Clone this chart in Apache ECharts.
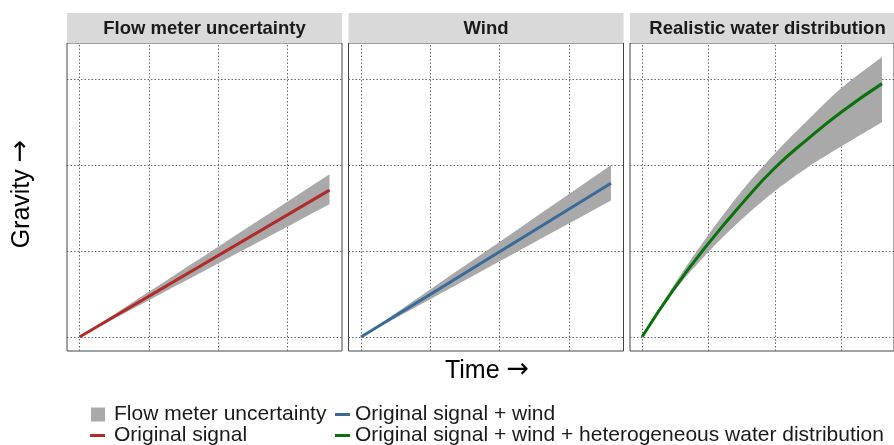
<!DOCTYPE html>
<html>
<head>
<meta charset="utf-8">
<script src="https://cdn.jsdelivr.net/npm/echarts@6/dist/echarts.min.js"></script>
<style>html,body{margin:0;padding:0;background:#fff;}#c{width:894px;height:445px;}</style>
</head>
<body>
<div id="c"></div>
<script>
// ---- data (in grid units) ----
const panelTitles = ['Flow meter uncertainty', 'Wind', 'Realistic water distribution'];
const gridX = [0, 1, 2, 3];
const gridY = [0, 1, 2, 3];

const xs1 = [0, 3.61];
const line1 = [0, 1.71];
const lower1 = [0, 1.547];
const upper1 = [0, 1.895];

const xs2 = [0, 3.61];
const line2 = [0, 1.79];
const lower2 = [0, 1.59];
const upper2 = [0, 2.0];

const xs3 = [0, 0.5, 1, 1.5, 2, 2.5, 3, 3.61];
const line3 = [0, 0.58, 1.09, 1.55, 1.97, 2.31, 2.62, 2.95];
const lower3 = [0, 0.55, 0.99, 1.37, 1.70, 1.98, 2.22, 2.50];
const upper3 = [0, 0.63, 1.19, 1.70, 2.14, 2.53, 2.90, 3.26];

const seriesNames = ['Original signal', 'Original signal + wind', 'Original signal + wind + heterogeneous water distribution'];
const bandName = 'Flow meter uncertainty';

// ---- styling ----
const FONT = "'Liberation Sans', Arial, Helvetica, sans-serif";
const BAND = '#a9a9a9';
const COLORS = ['#b22a2a', '#3a6a9a', '#0a720a'];
const X_MIN = -0.1805, X_MAX = 3.7905, Y_MIN = -0.163, Y_MAX = 3.423;
const panelLeft = [67, 348.5, 630];
const PW = 275, TOP = 43, PH = 308, STRIP_TOP = 13, STRIP_H = 30;

const panels = [
  {xs: xs1, line: line1, lo: lower1, up: upper1},
  {xs: xs2, line: line2, lo: lower2, up: upper2},
  {xs: xs3, line: line3, lo: lower3, up: upper3}
];

const grids = [], xAxes = [], yAxes = [], series = [], graphics = [];
panels.forEach((p, i) => {
  grids.push({left: panelLeft[i], top: TOP, width: PW, height: PH, show: true,
    borderColor: '#444', borderWidth: 1, backgroundColor: '#fff', containLabel: false});
  const hide = {axisLine: {show: false}, axisTick: {show: false}, axisLabel: {show: false}, splitLine: {show: false}};
  xAxes.push(Object.assign({type: 'value', gridIndex: i, min: X_MIN, max: X_MAX}, hide));
  yAxes.push(Object.assign({type: 'value', gridIndex: i, min: Y_MIN, max: Y_MAX}, hide));

  // uncertainty band
  series.push({
    type: 'custom', name: bandName, xAxisIndex: i, yAxisIndex: i, z: 2, silent: true,
    animation: false,
    itemStyle: {color: BAND},
    data: p.xs.map((x, k) => [x, p.lo[k], p.up[k]]),
    encode: {x: 0, y: [1, 2]},
    renderItem: (params, api) => {
      if (params.dataIndex !== 0) return null;
      const top = p.xs.map((x, k) => api.coord([x, p.up[k]]));
      const bot = p.xs.map((x, k) => api.coord([x, p.lo[k]])).reverse();
      const n = top.length;
      const pts = top.concat([top[n - 1], bot[0]], bot);
      return {type: 'polygon', shape: {points: pts, smooth: 0.3}, style: {fill: BAND}};
    }
  });

  // signal line + gridlines
  series.push({
    type: 'line', name: seriesNames[i], xAxisIndex: i, yAxisIndex: i, z: 3,
    data: p.xs.map((x, k) => [x, p.line[k]]),
    smooth: i === 2 ? 0.5 : false,
    showSymbol: false, symbol: 'none', silent: true, animation: false,
    itemStyle: {color: COLORS[i]},
    lineStyle: {color: COLORS[i], width: 3},
    markLine: {
      silent: true, z: 1, symbol: ['none', 'none'], animation: false,
      label: {show: false},
      emphasis: {disabled: true},
      lineStyle: {color: '#666', width: 1, type: [1.5, 2]},
      data: gridX.map(v => ({xAxis: v})).concat(gridY.map(v => ({yAxis: v})))
    }
  });

  // strip
  graphics.push({type: 'rect', left: panelLeft[i], top: STRIP_TOP, z: 10,
    shape: {width: PW, height: STRIP_H}, style: {fill: '#d9d9d9'}});
  graphics.push({type: 'text', x: panelLeft[i] + PW / 2, y: STRIP_TOP + STRIP_H / 2 + 1, z: 11,
    style: {text: panelTitles[i], font: 'bold 18.5px ' + FONT, fill: '#1a1a1a', align: 'center', verticalAlign: 'middle'}});
});

const axisRich = {
  t: {fontFamily: FONT, fontSize: 25, color: '#000'},
  a: {fontFamily: "'DejaVu Sans', sans-serif", fontSize: 27, color: '#000', padding: [0, 0, 3, 0]}
};
graphics.push({type: 'text', x: 487, y: 371, z: 11,
  style: {text: '{t|Time }{a|→}', rich: axisRich, align: 'center', verticalAlign: 'middle'}});
graphics.push({type: 'text', x: 22, y: 194, rotation: Math.PI / 2, z: 11,
  style: {text: '{t|Gravity }{a|→}', rich: axisRich, align: 'center', verticalAlign: 'middle'}});

const legText = {fontFamily: FONT, fontSize: 21, color: '#1a1a1a'};
function leg(name, left, top, w, h, pad) {
  return {data: [{name: name, icon: 'rect'}], left: left, top: top, padding: 0, itemWidth: w, itemHeight: h,
    selectedMode: false, textStyle: Object.assign({padding: [0, 0, 0, pad]}, legText), itemGap: 0};
}

const chart = echarts.init(document.getElementById('c'), null, {renderer: 'canvas'});
chart.setOption({
  animation: false,
  backgroundColor: '#fff',
  grid: grids, xAxis: xAxes, yAxis: yAxes, series: series,
  legend: [
    leg(bandName, 91, 404, 14, 14, 4),
    leg(seriesNames[0], 90, 425, 15, 3, 4),
    leg(seriesNames[1], 335, 404, 15, 3, 0),
    leg(seriesNames[2], 335, 425, 15, 3, 0)
  ],
  graphic: graphics
});
</script>
</body>
</html>
